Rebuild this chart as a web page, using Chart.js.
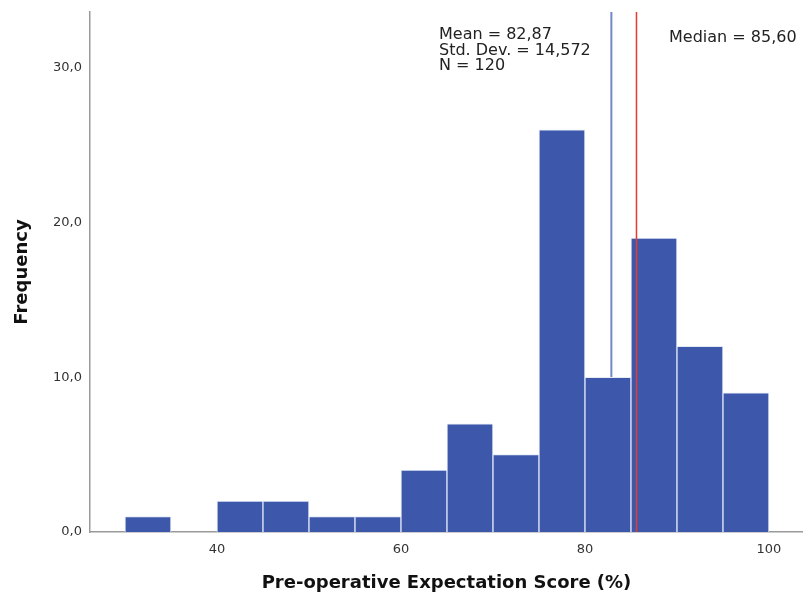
<!DOCTYPE html>
<html>
<head>
<meta charset="utf-8">
<script src="https://cdn.jsdelivr.net/npm/chart.js@4/dist/chart.umd.min.js"></script>
<style>
  html, body { margin: 0; padding: 0; background: #fff; }
  #wrap { width: 803px; height: 606px; }
</style>
</head>
<body>
<div id="wrap"><canvas id="histChart"></canvas></div>
<script>
// bin centres (width 5) and frequencies
const binCentres = [32.5, 37.5, 42.5, 47.5, 52.5, 57.5, 62.5, 67.5, 72.5, 77.5, 82.5, 87.5, 92.5, 97.5];
const frequencies = [1, 0, 2, 2, 1, 1, 4, 7, 5, 26, 10, 19, 12, 9];
const xTickValues = [40, 60, 80, 100];
const yTickValues = [0, 10, 20, 30];
const meanValue = 82.87;
const medianValue = 85.6;
const statsLines = ["Mean = 82,87", "Std. Dev. = 14,572", "N = 120"];
const medianLabel = "Median = 85,60";

const FONT = "'DejaVu Sans', sans-serif";
const xMin = 26.2, xMax = 103.7, yMax = 33.62;

document.addEventListener("DOMContentLoaded", function () {
  var ctx = document.getElementById("histChart").getContext("2d");

  var annotations = {
    id: "statsText",
    afterDraw: function (chart) {
      const c = chart.ctx;
      c.save();
      c.fillStyle = "#222";
      c.font = "16px " + FONT;
      c.textBaseline = "alphabetic";
      c.textAlign = "left";
      statsLines.forEach(function (line, i) {
        c.fillText(line, 439, 39 + i * 15.5);
      });
      c.fillText(medianLabel, 669, 42);
      c.restore();
    },
  };

  var histData = binCentres.map((x, i) => ({ x: x, y: frequencies[i] }));

  new Chart(ctx, {
    data: {
      datasets: [
        {
          type: "line",
          label: "mean",
          data: [{ x: meanValue, y: 0 }, { x: meanValue, y: yMax }],
          borderColor: "#7486cc",
          borderWidth: 2,
          pointRadius: 0,
          order: 3,
        },
        {
          type: "bar",
          label: "Frequency",
          data: histData,
          backgroundColor: "#3d58ab",
          borderColor: "#e6eaf7",
          borderWidth: 1,
          barPercentage: 1,
          categoryPercentage: 1,
          order: 2,
        },
        {
          type: "line",
          label: "median",
          data: [{ x: medianValue, y: 0 }, { x: medianValue, y: yMax }],
          borderColor: "#e8392e",
          borderWidth: 1.5,
          pointRadius: 0,
          order: 1,
        },
      ],
    },
    options: {
      responsive: true,
      maintainAspectRatio: false,
      animation: false,
      layout: { padding: { top: 12, right: 0, left: 0, bottom: 0 } },
      plugins: {
        legend: { display: false },
        tooltip: { enabled: false },
      },
      scales: {
        x: {
          type: "linear",
          min: xMin,
          max: xMax,
          offset: false,
          grid: { display: false, drawTicks: false },
          border: { display: true, color: "#9a9a9a", width: 1.5 },
          afterBuildTicks: function (scale) {
            scale.ticks = xTickValues.map((v) => ({ value: v }));
          },
          afterFit: function (scale) {
            scale.height = 74;
            scale.paddingLeft = 0;
            scale.paddingRight = 0;
          },
          ticks: {
            padding: 10,
            color: "#333",
            font: { family: FONT, size: 13 },
            maxRotation: 0,
            callback: (v) => String(v),
          },
          title: {
            display: true,
            text: "Pre-operative Expectation Score (%)",
            color: "#111",
            font: { family: FONT, size: 18, weight: "bold" },
            padding: { top: 0, bottom: 12 },
          },
        },
        y: {
          min: 0,
          max: yMax,
          grid: { display: false, drawTicks: false },
          border: { display: true, color: "#9a9a9a", width: 1.5 },
          afterBuildTicks: function (scale) {
            scale.ticks = yTickValues.map((v) => ({ value: v }));
          },
          afterFit: function (scale) {
            scale.width = 90;
            scale.paddingTop = 0;
            scale.paddingBottom = 0;
          },
          ticks: {
            padding: 8,
            color: "#333",
            font: { family: FONT, size: 13 },
            callback: (v) => v.toFixed(1).replace(".", ","),
          },
          title: {
            display: true,
            text: "Frequency",
            color: "#111",
            font: { family: FONT, size: 18, weight: "bold" },
            padding: { top: 12, bottom: 0 },
          },
        },
      },
    },
    plugins: [annotations],
  });
});
</script>
</body>
</html>
